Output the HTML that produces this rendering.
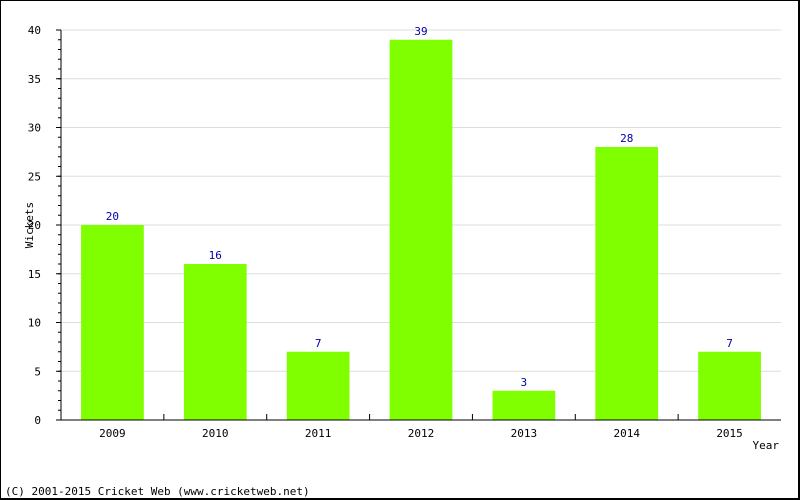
<!DOCTYPE html>
<html><head><meta charset="utf-8"><style>
html,body{margin:0;padding:0;background:#fff}
svg{display:block;font-family:"DejaVu Sans Mono","Liberation Mono",monospace}
</style></head><body>
<svg width="800" height="500" viewBox="0 0 800 500">
<rect x="0.5" y="0.5" width="798" height="498" fill="#fff" stroke="#000" stroke-width="1"/>
<line x1="799" y1="0" x2="799" y2="500" stroke="#000" stroke-width="2"/>
<line x1="0" y1="499" x2="800" y2="499" stroke="#000" stroke-width="2"/>
<g id="grid"></g><g id="bars"></g><g id="axes"></g>
<text x="33" y="225" font-size="11" text-anchor="middle" transform="rotate(-90 33 225)">Wickets</text>
<text x="779" y="449" font-size="11" text-anchor="end">Year</text>
<text x="5" y="495" font-size="11">(C) 2001-2015 Cricket Web (www.cricketweb.net)</text>
</svg>
<script>
const categories = ["2009","2010","2011","2012","2013","2014","2015"];
const values = [20,16,7,39,3,28,7];
const yTicks = [0,5,10,15,20,25,30,35,40];
const NS="http://www.w3.org/2000/svg";
const L=61,R=781,T=30,B=420,YMAX=40;
const y=v=>B-(v/YMAX)*(B-T);
const cw=(R-L)/categories.length;
const x=i=>L+i*cw;
function mk(tag,attrs,parent,txt){const e=document.createElementNS(NS,tag);for(const k in attrs)e.setAttribute(k,attrs[k]);if(txt!==undefined)e.textContent=txt;parent.appendChild(e);return e;}
const grid=document.getElementById('grid'),bars=document.getElementById('bars'),axes=document.getElementById('axes');
yTicks.forEach(t=>{
  if(t>0){const g=mk('line',{x1:L,x2:R,y1:y(t),y2:y(t),stroke:'#dddddd'},grid);
  
  }
  const lb=mk('text',{x:L-20,y:y(t)+4,'font-size':11,'text-anchor':'end'},axes,String(t));
  
  
  mk('line',{x1:L-5,x2:L,y1:y(t),y2:y(t),stroke:'#000'},axes);
});
for(let v=0;v<=YMAX;v++){mk('line',{x1:L-3,x2:L,y1:y(v),y2:y(v),stroke:'#000'},axes);}
categories.forEach((c,i)=>{
  const bw=cw*0.61, bx=x(i)+(cw-bw)/2;
  const r=mk('rect',{x:bx,y:y(values[i]),width:bw,height:B-y(values[i]),fill:'#80ff00'},bars);
  
  
  const vl=mk('text',{x:x(i)+cw/2,y:y(values[i])-5,'font-size':11,'text-anchor':'middle',fill:'#0000aa'},bars,String(values[i]));
  
  
  const xl=mk('text',{x:x(i)+cw/2,y:437,'font-size':11,'text-anchor':'middle'},axes,c);
  
  
  if(i>0) mk('line',{x1:x(i),x2:x(i),y1:B,y2:B-6,stroke:'#000'},axes);
});
const ya=mk('line',{x1:L,x2:L,y1:T,y2:B,stroke:'#000'},axes);


const xa=mk('line',{x1:L,x2:R,y1:B,y2:B,stroke:'#000'},axes);


</script>
</body></html>
